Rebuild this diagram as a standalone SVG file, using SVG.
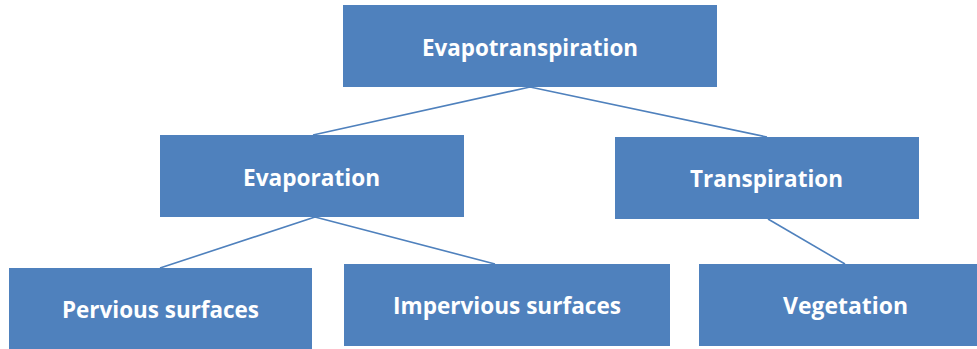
<svg xmlns="http://www.w3.org/2000/svg" width="977" height="349" viewBox="0 0 977 349">
<style>
.box{fill:#4F81BD;}
.lbl{fill:#ffffff;font-family:"Open Sans","Liberation Sans",sans-serif;font-weight:bold;font-size:23px;}
.con{stroke:#4F81BD;stroke-width:1.6;fill:none;}
</style>
<rect width="977" height="349" fill="#ffffff"/>
<g id="connectors">
<path class="con" d="M530,87 L313,135 M530,87 L767,137"/>
<path class="con" d="M315,217 L160,268 M315,217 L495,264"/>
<path class="con" d="M768,219 L845,264"/>
</g>
<g id="evapotranspiration">
<rect class="box" x="343" y="5" width="374" height="82"/>
<text class="lbl" x="422" y="56" textLength="216" lengthAdjust="spacingAndGlyphs">Evapotranspiration</text>
</g>
<g id="evaporation">
<rect class="box" x="160" y="135" width="304" height="82"/>
<text class="lbl" x="243" y="186" textLength="137" lengthAdjust="spacingAndGlyphs">Evaporation</text>
</g>
<g id="transpiration">
<rect class="box" x="615" y="137" width="304" height="82"/>
<text class="lbl" x="690" y="187" textLength="153" lengthAdjust="spacingAndGlyphs">Transpiration</text>
</g>
<g id="pervious">
<rect class="box" x="9" y="268" width="303" height="81"/>
<text class="lbl" x="62" y="318" textLength="197" lengthAdjust="spacingAndGlyphs">Pervious surfaces</text>
</g>
<g id="impervious">
<rect class="box" x="344" y="264" width="326" height="82"/>
<text class="lbl" x="393" y="314" textLength="228" lengthAdjust="spacingAndGlyphs">Impervious surfaces</text>
</g>
<g id="vegetation">
<rect class="box" x="699" y="264" width="278" height="82"/>
<text class="lbl" x="783" y="314" textLength="125" lengthAdjust="spacingAndGlyphs">Vegetation</text>
</g>
</svg>
